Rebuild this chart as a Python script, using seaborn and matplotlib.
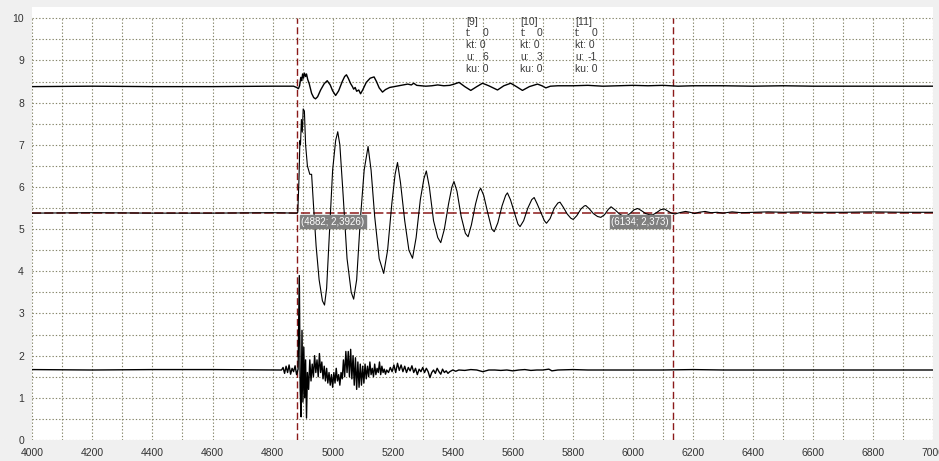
import numpy as np
import pandas as pd
import matplotlib
matplotlib.use("Agg")
import matplotlib.pyplot as plt
import seaborn as sns

# ---------------- data ----------------
top_x = [4000, 4200, 4400, 4600, 4800, 4870, 4880, 4886, 4890, 4894, 4897, 4900, 4903, 4906, 4910, 4913,
         4917, 4922, 4930, 4937, 4943, 4950, 4960, 4972, 4982, 4992, 5000, 5010, 5020, 5032, 5040, 5046,
         5052, 5060, 5066, 5070, 5075, 5080, 5087, 5093, 5100, 5112, 5125, 5138, 5146, 5155, 5166, 5176,
         5190, 5205, 5220, 5235, 5250, 5262, 5270, 5280, 5295, 5310, 5330, 5350, 5370, 5390, 5405, 5421,
         5440, 5460, 5480, 5499, 5520, 5549, 5570, 5593, 5612, 5632, 5655, 5682, 5697, 5710, 5725, 5750,
         5800, 5850, 5900, 5950, 6000, 6050, 6100, 6150, 6200, 6300, 6400, 6500, 6600, 6700, 6800, 6900, 7000]
top_y = [8.38, 8.39, 8.38, 8.38, 8.39, 8.39, 8.36, 8.33, 8.40, 8.60, 8.52, 8.68, 8.58, 8.70, 8.62, 8.68,
         8.55, 8.45, 8.22, 8.12, 8.09, 8.14, 8.30, 8.45, 8.52, 8.42, 8.28, 8.17, 8.28, 8.50, 8.62, 8.66,
         8.58, 8.45, 8.38, 8.32, 8.36, 8.27, 8.30, 8.21, 8.30, 8.48, 8.58, 8.61, 8.50, 8.35, 8.25, 8.31,
         8.36, 8.38, 8.40, 8.42, 8.44, 8.42, 8.46, 8.41, 8.40, 8.39, 8.40, 8.42, 8.40, 8.41, 8.44, 8.48,
         8.38, 8.29, 8.38, 8.46, 8.40, 8.30, 8.40, 8.46, 8.38, 8.29, 8.38, 8.44, 8.40, 8.35, 8.39, 8.40,
         8.40, 8.41, 8.39, 8.40, 8.41, 8.40, 8.41, 8.39, 8.40, 8.40, 8.39, 8.40, 8.39, 8.39, 8.39, 8.39, 8.39]

mid_x = [4000, 4200, 4400, 4600, 4800, 4880, 4884, 4888, 4891, 4893, 4896, 4899, 4902, 4906, 4910, 4916,
         4924, 4930, 4936, 4945, 4955, 4966, 4973, 4980, 4990, 5000, 5010, 5017, 5024, 5035, 5048, 5062,
         5070, 5080, 5092, 5105, 5118, 5128, 5140, 5155, 5170, 5183, 5197, 5208, 5216, 5226, 5240, 5254,
         5266, 5278, 5292, 5304, 5312, 5322, 5336, 5350, 5360, 5372, 5386, 5397, 5404, 5414, 5428, 5442,
         5451, 5462, 5476, 5487, 5493, 5503, 5516, 5530, 5538, 5550, 5564, 5576, 5582, 5592, 5605, 5617,
         5624, 5636, 5650, 5663, 5671, 5681, 5694, 5705, 5712, 5724, 5738, 5750, 5757, 5768, 5781, 5793,
         5801, 5813, 5827, 5838, 5843, 5855, 5868, 5882, 5893, 5905, 5918, 5927, 5940, 5955, 5968, 5977,
         5990, 6004, 6016, 6028, 6042, 6056, 6066, 6078, 6092, 6104, 6116, 6128, 6140, 6155, 6175, 6190,
         6205, 6220, 6240, 6260, 6280, 6300, 6330, 6360, 6400, 6450, 6500, 6550, 6600, 6700, 6800, 6900, 7000]
mid_y = [5.38, 5.39, 5.38, 5.38, 5.39, 5.38, 5.40, 6.20, 7.10, 7.00, 7.60, 7.30, 7.85, 7.80, 7.00, 6.50,
         6.30, 6.30, 5.60, 4.60, 3.80, 3.30, 3.20, 3.60, 5.00, 6.40, 7.10, 7.31, 7.00, 5.80, 4.30, 3.50,
         3.34, 3.80, 5.20, 6.40, 6.96, 6.40, 5.30, 4.30, 3.95, 4.50, 5.60, 6.30, 6.58, 6.10, 5.20, 4.50,
         4.31, 4.80, 5.70, 6.20, 6.38, 6.00, 5.20, 4.80, 4.68, 5.00, 5.60, 6.00, 6.13, 5.90, 5.30, 4.90,
         4.82, 5.10, 5.60, 5.90, 5.97, 5.80, 5.40, 5.00, 4.94, 5.15, 5.55, 5.80, 5.86, 5.70, 5.40, 5.12,
         5.06, 5.20, 5.50, 5.70, 5.75, 5.60, 5.38, 5.20, 5.14, 5.25, 5.50, 5.62, 5.64, 5.52, 5.36, 5.26,
         5.23, 5.32, 5.48, 5.55, 5.56, 5.48, 5.37, 5.30, 5.28, 5.34, 5.47, 5.53, 5.46, 5.36, 5.31, 5.31,
         5.37, 5.46, 5.49, 5.44, 5.37, 5.34, 5.34, 5.39, 5.46, 5.48, 5.43, 5.38, 5.36, 5.39, 5.42, 5.40,
         5.37, 5.40, 5.42, 5.39, 5.40, 5.38, 5.41, 5.39, 5.40, 5.41, 5.40, 5.41, 5.40, 5.40, 5.41, 5.40, 5.40]

bot_x = [4000, 4200, 4400, 4600, 4800, 4830, 4835, 4840, 4845, 4850, 4855, 4860, 4865, 4870, 4875, 4880,
         4885, 4889, 4892, 4895, 4898, 4901, 4904, 4907, 4910, 4913, 4916, 4920, 4924, 4928, 4932, 4936,
         4940, 4944, 4948, 4952, 4956, 4960, 4964, 4968, 4972, 4976, 4980, 4984, 4988, 4992, 4996, 5000,
         5004, 5008, 5012, 5016, 5020, 5024, 5028, 5032, 5036, 5040, 5044, 5048, 5052, 5056, 5060, 5064,
         5068, 5072, 5076, 5080, 5084, 5088, 5092, 5096, 5100, 5104, 5108, 5112, 5116, 5120, 5124, 5128,
         5132, 5136, 5140, 5144, 5148, 5152, 5156, 5160, 5164, 5168, 5172, 5176, 5180, 5186, 5192, 5198,
         5204, 5210, 5216, 5222, 5228, 5234, 5240, 5246, 5252, 5258, 5264, 5270, 5276, 5282, 5288, 5294,
         5300, 5306, 5312, 5318, 5324, 5330, 5336, 5342, 5348, 5354, 5360, 5366, 5372, 5378, 5384, 5390,
         5400, 5410, 5420, 5440, 5460, 5480, 5500, 5520, 5540, 5560, 5580, 5600, 5620, 5640, 5660, 5680,
         5700, 5720, 5730, 5750, 5800, 5850, 5900, 6000, 6100, 6200, 6300, 6400, 6500, 6600, 6700, 6800,
         6900, 7000]
bot_y = [1.67, 1.66, 1.67, 1.67, 1.66, 1.66, 1.72, 1.58, 1.75, 1.60, 1.78, 1.56, 1.70, 1.62, 1.76, 1.55,
         1.68, 3.90, 1.20, 0.55, 2.60, 0.90, 2.20, 1.00, 1.90, 0.52, 1.60, 1.20, 1.90, 1.40, 1.80, 1.50,
         2.00, 1.60, 1.90, 1.50, 2.05, 1.60, 1.85, 1.45, 1.75, 1.40, 1.70, 1.35, 1.60, 1.30, 1.55, 1.25,
         1.60, 1.35, 1.70, 1.40, 1.55, 1.30, 1.60, 1.45, 1.90, 1.50, 2.10, 1.60, 2.10, 1.50, 2.15, 1.45,
         2.00, 1.30, 1.95, 1.20, 1.85, 1.25, 1.80, 1.30, 1.75, 1.35, 1.80, 1.45, 1.75, 1.50, 1.85, 1.55,
         1.70, 1.50, 1.80, 1.55, 1.70, 1.60, 1.85, 1.55, 1.75, 1.60, 1.68, 1.56, 1.66, 1.60, 1.72, 1.62,
         1.78, 1.60, 1.82, 1.65, 1.78, 1.62, 1.75, 1.60, 1.72, 1.64, 1.76, 1.60, 1.70, 1.55, 1.68, 1.62,
         1.72, 1.60, 1.70, 1.62, 1.48, 1.60, 1.66, 1.58, 1.70, 1.62, 1.56, 1.68, 1.60, 1.64, 1.58, 1.62,
         1.66, 1.63, 1.66, 1.65, 1.67, 1.66, 1.62, 1.66, 1.66, 1.65, 1.66, 1.64, 1.66, 1.67, 1.65, 1.66,
         1.66, 1.68, 1.64, 1.66, 1.67, 1.66, 1.66, 1.66, 1.66, 1.67, 1.66, 1.66, 1.66, 1.66, 1.66, 1.66,
         1.66, 1.66]

cursor_x = [4882, 6134]
cursor_labels = ["(4882; 2,3926)", "(6134; 2,373)"]
ref_level = 5.38

info_names = ["[9]", "[10]", "[11]"]
info_t = ["0", "0", "0"]
info_kt = ["0", "0", "0"]
info_u = ["6", "3", "-1"]
info_ku = ["0", "0", "0"]

x_ticks = [4000, 4200, 4400, 4600, 4800, 5000, 5200, 5400, 5600, 5800, 6000, 6200, 6400, 6600, 6800, 7000]
y_ticks = [0, 1, 2, 3, 4, 5, 6, 7, 8, 9, 10]

# ---------------- styling ----------------
sns.set_style("white")
plt.rcParams['font.family'] = ['Liberation Sans', 'DejaVu Sans']

W, H = 939, 461
fig = plt.figure(figsize=(W / 100, H / 100), dpi=100, facecolor="#f0f0f0")
x0_px, x1_px = 32.3, 933.3
y0_px = 440.0
ppu = 42.17
ytop = 10.27
top_px = y0_px - ytop * ppu
ax = fig.add_axes([x0_px / W, (H - y0_px) / H, (x1_px - x0_px) / W, (y0_px - top_px) / H])
ax.set_facecolor("white")

grid_col = "#85856a"
for s in ax.spines.values():
    s.set_visible(False)

ax.set_xlim(4000, 7000)
ax.set_ylim(0, ytop)
ax.set_xticks(x_ticks)
ax.set_xticklabels([str(v) for v in x_ticks])
ax.set_yticks(y_ticks)
ax.set_yticklabels([str(v) for v in y_ticks])
ax.tick_params(axis="both", direction="out", length=4, width=0.8, color="#555555",
               labelsize=7.5, labelcolor="#333333", pad=2)

for gx in range(4000, 7001, 100):
    ax.axvline(gx, ymin=0, ymax=10 / ytop, color=grid_col, lw=0.8, ls=(0, (1.2, 1.8)), zorder=0)
for gy in np.arange(0, 10.01, 0.5):
    ax.axhline(gy, color=grid_col, lw=0.8, ls=(0, (1.2, 1.8)), zorder=0)

red = "#8b1a1a"
ax.axhline(ref_level, color=red, lw=1.1, ls=(0, (6, 2)), zorder=1)
for cx in cursor_x:
    ax.axvline(cx, ymin=0, ymax=10 / ytop, color=red, lw=1.0, ls=(0, (5, 2.5)), zorder=1)

sns.lineplot(x=top_x, y=top_y, ax=ax, color="black", lw=1.0, sort=False, estimator=None, zorder=3)
sns.lineplot(x=mid_x, y=mid_y, ax=ax, color="black", lw=0.8, sort=False, estimator=None, zorder=3)
sns.lineplot(x=bot_x, y=bot_y, ax=ax, color="black", lw=1.0, sort=False, estimator=None, zorder=3)

def px2x(px):
    return 4000 + (px - x0_px) / ((x1_px - x0_px) / 3000)

def py2y(py):
    return (y0_px - py) / ppu

box = dict(boxstyle="square,pad=0.15", fc="#808080", ec="#808080")
ax.text(px2x(301), py2y(221.5), cursor_labels[0], ha="left", va="center", fontsize=7,
        color="white", bbox=box, zorder=5)
ax.text(px2x(669), py2y(221.5), cursor_labels[1], ha="right", va="center", fontsize=7,
        color="white", bbox=box, zorder=5)

cols_px = [466, 520.5, 575]
rows_px = [21.7, 33.3, 45.0, 57.3, 69.0]
tc = "#3a3a3a"
fs = 7.5
for i, cpx in enumerate(cols_px):
    ax.text(px2x(cpx), py2y(rows_px[0]), info_names[i], fontsize=fs, color=tc, ha="left", va="center")
    ax.text(px2x(cpx), py2y(rows_px[1]), "t:", fontsize=fs, color=tc, ha="left", va="center")
    ax.text(px2x(cpx + 22), py2y(rows_px[1]), info_t[i], fontsize=fs, color=tc, ha="right", va="center")
    ax.text(px2x(cpx), py2y(rows_px[2]), "kt: " + info_kt[i], fontsize=fs, color=tc, ha="left", va="center")
    ax.text(px2x(cpx), py2y(rows_px[3]), "u:", fontsize=fs, color=tc, ha="left", va="center")
    ax.text(px2x(cpx + 22), py2y(rows_px[3]), info_u[i], fontsize=fs, color=tc, ha="right", va="center")
    ax.text(px2x(cpx), py2y(rows_px[4]), "ku: " + info_ku[i], fontsize=fs, color=tc, ha="left", va="center")

fig.savefig("out.png", dpi=100, facecolor=fig.get_facecolor())
